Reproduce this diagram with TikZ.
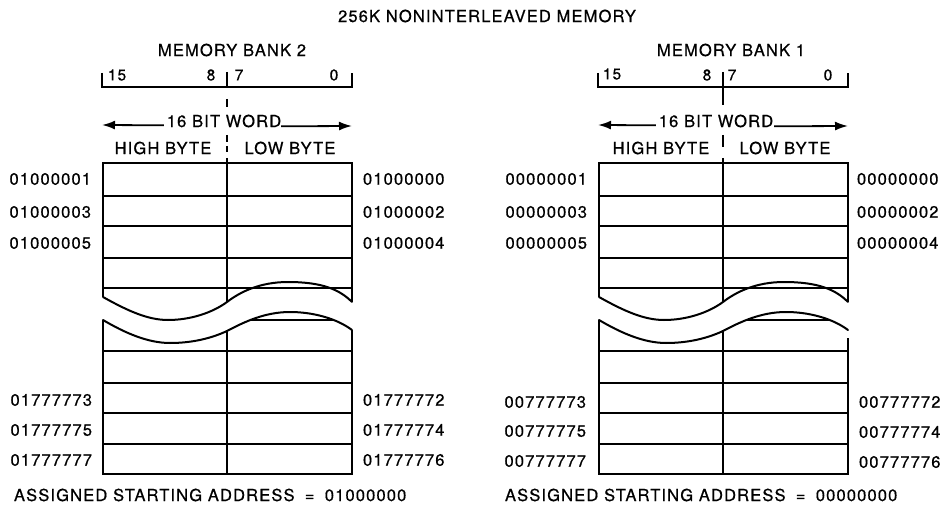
\documentclass[tikz,border=0pt]{standalone}
\usepackage{fontspec}
\setmainfont{TeX Gyre Heros}[LetterSpace=7, FakeBold=0.6]
\usetikzlibrary{arrows.meta}

\tikzset{
  txt/.style={inner sep=0pt, outer sep=0pt, font=\fontsize{16.5}{18}\selectfont},
  bits/.style={inner sep=0pt, outer sep=0pt, font=\fontsize{15.5}{17}\selectfont},
  frame/.style={line width=2.6pt},
  rule/.style={line width=1.8pt},
  cut/.style={line width=2pt, line cap=round},
  span/.style={line width=1.8pt, -{Latex[length=13pt,width=9pt]}},
}

% Table of one bank, drawn in the local frame of the left-hand bank.
% #1: y where the right edge resumes below the lower cut
\newcommand\banktable[1]{%
  % upper block
  \foreach \yy in {196,226,258,288} \draw[rule] (103,\yy) -- (352,\yy);
  \draw[rule] (227,158) -- (227,302);
  \draw[frame] (103,297) -- (103,163) -- (352,163) -- (352,302);
  \draw[cut] (103,297) .. controls (128,311) and (148,320) .. (168,320)
    .. controls (190,320) and (212,313) .. (227,302)
    .. controls (240,292) and (260,282) .. (288,282)
    .. controls (323,282) and (340,290) .. (352,302);
  % lower block, rows clipped below the cut
  \begin{scope}
    \clip (103,320) .. controls (125,333) and (148,343) .. (170,343)
      .. controls (193,343) and (212,338) .. (227,331)
      .. controls (244,322) and (265,312) .. (290,312)
      .. controls (312,312) and (336,318) .. (352,330)
      -- (352,474) -- (103,474) -- cycle;
    \draw[rule] (103,320) -- (352,320);
    \draw[rule] (227,300) -- (227,474);
  \end{scope}
  \foreach \yy in {351,383,413,444} \draw[rule] (103,\yy) -- (352,\yy);
  \draw[frame] (103,320) -- (103,474) -- (352,474) -- (352,#1);
  \draw[cut] (103,320) .. controls (125,333) and (148,343) .. (170,343)
    .. controls (193,343) and (212,338) .. (227,331)
    .. controls (244,322) and (265,312) .. (290,312)
    .. controls (312,312) and (336,318) .. (352,330);
  % bit-number bracket
  \draw[rule] (102,73) -- (102,87) -- (352,87) -- (352,73);
  \draw[rule] (227,72) -- (227,87);
}

\begin{document}
\begin{tikzpicture}[x=1pt, y=-1pt]
  \useasboundingbox (0,0) rectangle (945,505);

  \node[txt] (heading) at (487,16) {256K NONINTERLEAVED MEMORY};

  % ---------------- memory bank 2 ----------------
  \begin{scope}[name prefix=b2-]
    \banktable{330}
    \draw[rule] (227,99) -- (227,107);
    \draw[rule] (227,135) -- (227,142);
    \draw[rule] (227,146) -- (227,152);

    \node[txt] (title) at (232,50) {MEMORY BANK 2};
    \node[bits] (b15) at (117,75) {15};
    \node[bits] (b8) at (211,75) {8};
    \node[bits] (b7) at (239,75) {7};
    \node[bits] (b0) at (334,75) {0};

    \node[txt] (word) at (224,121) {16 BIT WORD};
    \coordinate (tipL) at (102,125);
    \coordinate (tipR) at (352,126);
    \draw[span] ([shift={(-3,-2)}]word.south west) -- (tipL);
    \draw[span] ([shift={(0,-1)}]word.south east) -- (tipR);

    \node[txt] (high) at (163,148) {HIGH BYTE};
    \node[txt] (low) at (290,148) {LOW BYTE};

    \node[txt, anchor=east] (l1) at (91,179) {01000001};
    \node[txt, anchor=east] (l3) at (91,212) {01000003};
    \node[txt, anchor=east] (l5) at (91,243) {01000005};
    \node[txt, anchor=east] (l73) at (92,400) {01777773};
    \node[txt, anchor=east] (l75) at (92,430) {01777775};
    \node[txt, anchor=east] (l77) at (92,460) {01777777};
    \node[txt, anchor=west] (r0) at (363,179) {01000000};
    \node[txt, anchor=west] (r2) at (363,212) {01000002};
    \node[txt, anchor=west] (r4) at (363,243) {01000004};
    \node[txt, anchor=west] (r72) at (363,400) {01777772};
    \node[txt, anchor=west] (r74) at (363,430) {01777774};
    \node[txt, anchor=west] (r76) at (363,460) {01777776};

    \node[txt, anchor=west] (start) at (14,495) {ASSIGNED STARTING ADDRESS \;=\; 01000000};
  \end{scope}

  % ---------------- memory bank 1 ----------------
  \begin{scope}[shift={(496,0)}, name prefix=b1-]
    \banktable{338}
    \draw[rule] (227,87) -- (227,105);
    \draw[rule] (227,135) -- (227,147);

    \node[txt] (title) at (235,50) {MEMORY BANK 1};
    \node[bits] (b15) at (116,74) {15};
    \node[bits] (b8) at (211,75) {8};
    \node[bits] (b7) at (236,75) {7};
    \node[bits] (b0) at (332,75) {0};

    \node[txt] (word) at (220,121) {16 BIT WORD};
    \coordinate (tipL) at (102,125);
    \coordinate (tipR) at (352,126);
    \draw[span] ([shift={(-3,-2)}]word.south west) -- (tipL);
    \draw[span] ([shift={(1,-1)}]word.south east) -- (tipR);

    \node[txt] (high) at (165,148) {HIGH BYTE};
    \node[txt] (low) at (289,148) {LOW BYTE};

    \node[txt, anchor=east] (l1) at (91,179) {00000001};
    \node[txt, anchor=east] (l3) at (91,212) {00000003};
    \node[txt, anchor=east] (l5) at (91,243) {00000005};
    \node[txt, anchor=east] (l73) at (90,402) {00777773};
    \node[txt, anchor=east] (l75) at (90,431) {00777775};
    \node[txt, anchor=east] (l77) at (90,461) {00777777};
    \node[txt, anchor=west] (r0) at (361,179) {00000000};
    \node[txt, anchor=west] (r2) at (361,212) {00000002};
    \node[txt, anchor=west] (r4) at (361,243) {00000004};
    \node[txt, anchor=west] (r72) at (363,402) {00777772};
    \node[txt, anchor=west] (r74) at (363,432) {00777774};
    \node[txt, anchor=west] (r76) at (363,462) {00777776};

    \node[txt, anchor=west] (start) at (9,495) {ASSIGNED STARTING ADDRESS \;=\; 00000000};
  \end{scope}
\end{tikzpicture}
\end{document}
